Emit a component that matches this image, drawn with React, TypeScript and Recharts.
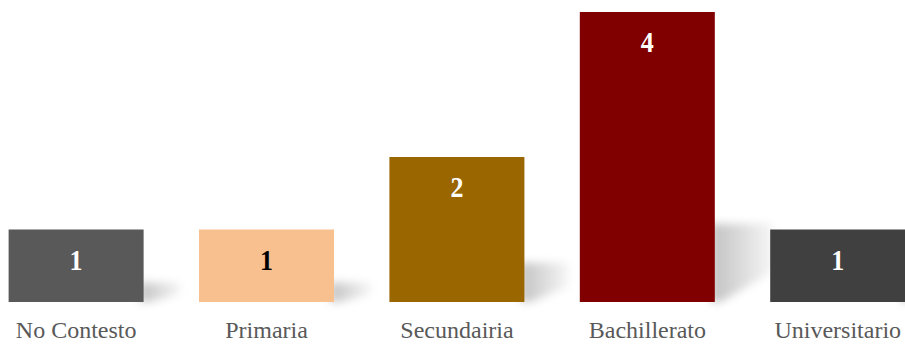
import React from 'react';
import { BarChart, Bar, XAxis, YAxis, Cell, LabelList } from 'recharts';

const categories = ['No Contesto', 'Primaria', 'Secundairia', 'Bachillerato', 'Universitario'];
const counts = [1, 1, 2, 4, 1];
const colors = ['#595959', '#F9C08F', '#996600', '#800000', '#404040'];
const labelColors = ['#ffffff', '#000000', '#ffffff', '#ffffff', '#ffffff'];

const data = categories.map((name, i) => ({ name, value: counts[i] }));

const FONT = '"Liberation Serif", "DejaVu Serif", serif';

// bar with a soft cast shadow to the right, like the office chart
const ShadowBar = (props: any) => {
  const { x, y, width, height, fill } = props;
  const R = x + width;
  const B = y + height;
  const t = height * 0.27;
  const d = 30 + height * 0.1;
  const pts = `${R - 4},${B} ${R - 4},${B - t} ${R + d},${B - t} ${R + d},${B - t * 0.4} ${R + 6},${B}`;
  return (
    <g>
      <polygon points={pts} fill="url(#shadowGrad)" filter="url(#shadowBlur)" />
      <rect x={x} y={y} width={width} height={height} fill={fill} />
    </g>
  );
};

const CategoryTick = (props: any) => {
  const { x, y, payload } = props;
  return (
    <text
      x={x}
      y={y + 34}
      textAnchor="middle"
      fill="#595959"
      fontFamily={FONT}
      fontSize={24}
    >
      {payload.value}
    </text>
  );
};

const ValueLabel = (props: any) => {
  const { x, y, width, value, index } = props;
  return (
    <text
      transform={`translate(${x + width / 2},${y + 40}) scale(1,1.15)`}
      textAnchor="middle"
      fill={labelColors[index]}
      fontFamily={FONT}
      fontWeight="bold"
      fontSize={26}
    >
      {value}
    </text>
  );
};

const App: React.FC = () => {
  return (
    <div style={{ position: 'fixed', left: 0, top: 0, width: 905, height: 345, overflow: 'hidden', background: '#fff' }}>
      <div style={{ position: 'absolute', left: -19, top: 0 }}>
        <BarChart
          width={952}
          height={345}
          data={data}
          margin={{ top: 12, right: 0, bottom: 0, left: 0 }}
          barCategoryGap="14.5%"
        >
          <defs>
            <linearGradient id="shadowGrad" x1="0" y1="0" x2="1" y2="0">
              <stop offset="0%" stopColor="#000" stopOpacity={0.24} />
              <stop offset="100%" stopColor="#000" stopOpacity={0.03} />
            </linearGradient>
            <filter id="shadowBlur" x="-50%" y="-50%" width="200%" height="200%">
              <feGaussianBlur stdDeviation="4" />
            </filter>
          </defs>
          <XAxis
            dataKey="name"
            height={43}
            axisLine={false}
            tickLine={false}
            tickSize={0}
            tick={<CategoryTick />}
            interval={0}
          />
          <YAxis hide domain={[0, 4]} />
          <Bar dataKey="value" shape={<ShadowBar />} isAnimationActive={false}>
            {data.map((_, i) => (
              <Cell key={`cell-${i}`} fill={colors[i]} />
            ))}
            <LabelList dataKey="value" content={<ValueLabel />} />
          </Bar>
        </BarChart>
      </div>
    </div>
  );
};

export default App;
